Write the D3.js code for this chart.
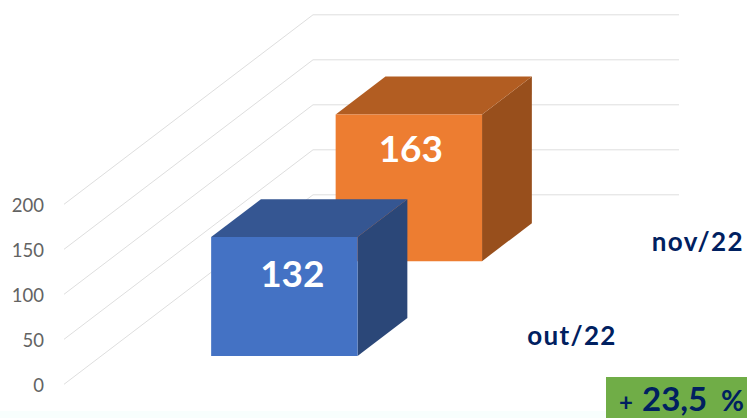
<!DOCTYPE html>
<html>
<head>
<meta charset="utf-8">
<script src="https://cdnjs.cloudflare.com/ajax/libs/d3/7.8.5/d3.min.js"></script>
<style>
  html, body { margin: 0; padding: 0; background: #fff; overflow: hidden; }
  svg { display: block; font-family: Lato, sans-serif; }
</style>
</head>
<body>
<div id="chart"></div>
<script>
// Chart values
const categories = ['out/22', 'nov/22'];
const values = [132, 163];
const tickValues = [0, 50, 100, 150, 200];
const changeValue = '23,5';

const w = 747;
const h = 418;

// Oblique 3D frame: front left corner of the floor and how far the back wall is shifted
const originX = 64;
const depthX = 249;
const depthY = 189.5;
const wallWidth = 366;

const yScale = d3.scaleLinear().domain([0, 200]).range([384.3, 204.3]);

// categories run into the depth of the chart
const depthScale = d3.scaleBand()
  .domain(categories)
  .range([0, 1])
  .paddingInner(0.6)
  .paddingOuter(0.3);

// only one series, so one band across the width
const xScale = d3.scaleBand()
  .domain(['series'])
  .range([0, wallWidth])
  .paddingOuter(0.75);

const colors = {
  'out/22': { front: '#4472c4', top: '#355692', side: '#2b4778' },
  'nov/22': { front: '#ed7d31', top: '#b25d22', side: '#984f1c' }
};

// the value labels are not quite centred on the bars in the original
const labelShift = {
  'out/22': [8, 49.5],
  'nov/22': [2, 47.5]
};

// value + across + depth -> screen point
function project(across, value, depth) {
  return [
    originX + across + depth * depthX,
    yScale(value) - depth * depthY
  ];
}

const svg = d3.select('#chart')
  .append('svg')
  .attr('width', w)
  .attr('height', h);

// Faint band at the bottom of the slide
svg.append('rect')
  .attr('x', 0)
  .attr('y', 411)
  .attr('width', w)
  .attr('height', 7)
  .attr('fill', '#f8fefd');

// Grid: diagonal on the side wall, then straight along the back wall
const gridLine = d3.line();
svg.append('g')
  .selectAll('path')
  .data(tickValues)
  .enter()
  .append('path')
  .attr('d', d => gridLine([project(0, d, 0), project(0, d, 1), project(wallWidth, d, 1)]))
  .attr('fill', 'none')
  .attr('stroke', '#dedede')
  .attr('stroke-width', 1);

// Axis
const yAxis = d3.axisLeft(yScale)
  .tickValues(tickValues)
  .tickSize(0)
  .tickPadding(20);

const axisG = svg.append('g')
  .attr('transform', `translate(${originX}, 1)`)
  .call(yAxis);
axisG.select('.domain').remove();
axisG.selectAll('text')
  .attr('font-family', 'Lato, sans-serif')
  .attr('font-size', '18.5px')
  .attr('fill', '#636363');

// Bars, back one first so that the front one covers it
const face = d3.line();
const bars = svg.selectAll('g.bar')
  .data(categories.map((c, i) => ({ c, v: values[i] })).reverse())
  .enter()
  .append('g')
  .attr('class', 'bar');

bars.each(function(d) {
  const g = d3.select(this);
  const x0 = xScale('series');
  const x1 = x0 + xScale.bandwidth();
  const d0 = depthScale(d.c);
  const d1 = d0 + depthScale.bandwidth();

  g.append('path')
    .attr('d', face([project(x1, 0, d0), project(x1, 0, d1), project(x1, d.v, d1), project(x1, d.v, d0)]) + 'Z')
    .attr('fill', colors[d.c].side);
  g.append('path')
    .attr('d', face([project(x0, d.v, d0), project(x0, d.v, d1), project(x1, d.v, d1), project(x1, d.v, d0)]) + 'Z')
    .attr('fill', colors[d.c].top);
  g.append('path')
    .attr('d', face([project(x0, 0, d0), project(x1, 0, d0), project(x1, d.v, d0), project(x0, d.v, d0)]) + 'Z')
    .attr('fill', colors[d.c].front);

  const p = project((x0 + x1) / 2, d.v, d0);
  g.append('text')
    .attr('x', p[0] + labelShift[d.c][0])
    .attr('y', p[1] + labelShift[d.c][1])
    .attr('text-anchor', 'middle')
    .attr('font-size', '37px')
    .attr('font-weight', 700)
    .attr('fill', '#fff')
    .text(d.v);
});

// Category labels sit to the right of each bar, on the floor
svg.selectAll('text.cat')
  .data(categories)
  .enter()
  .append('text')
  .attr('class', 'cat')
  .attr('x', d => project(wallWidth, 0, depthScale(d))[0] + 60)
  .attr('y', d => project(wallWidth, 0, depthScale(d))[1] - 10.5)
  .attr('font-size', '26px')
  .attr('font-weight', 700)
  .attr('letter-spacing', '1.3px')
  .attr('fill', '#002060')
  .text(d => d);

// Change badge
svg.append('rect')
  .attr('x', 606)
  .attr('y', 377)
  .attr('width', 141)
  .attr('height', 41)
  .attr('fill', '#70ad47');

const badge = svg.append('text')
  .attr('y', 411)
  .attr('font-weight', 700)
  .attr('fill', '#002060');
badge.append('tspan').attr('x', 619).attr('font-size', '24px').text('+');
badge.append('tspan').attr('x', 642).attr('font-size', '33px').text(changeValue);
badge.append('tspan').attr('x', 721).attr('font-size', '28px').text('%');
</script>
</body>
</html>
